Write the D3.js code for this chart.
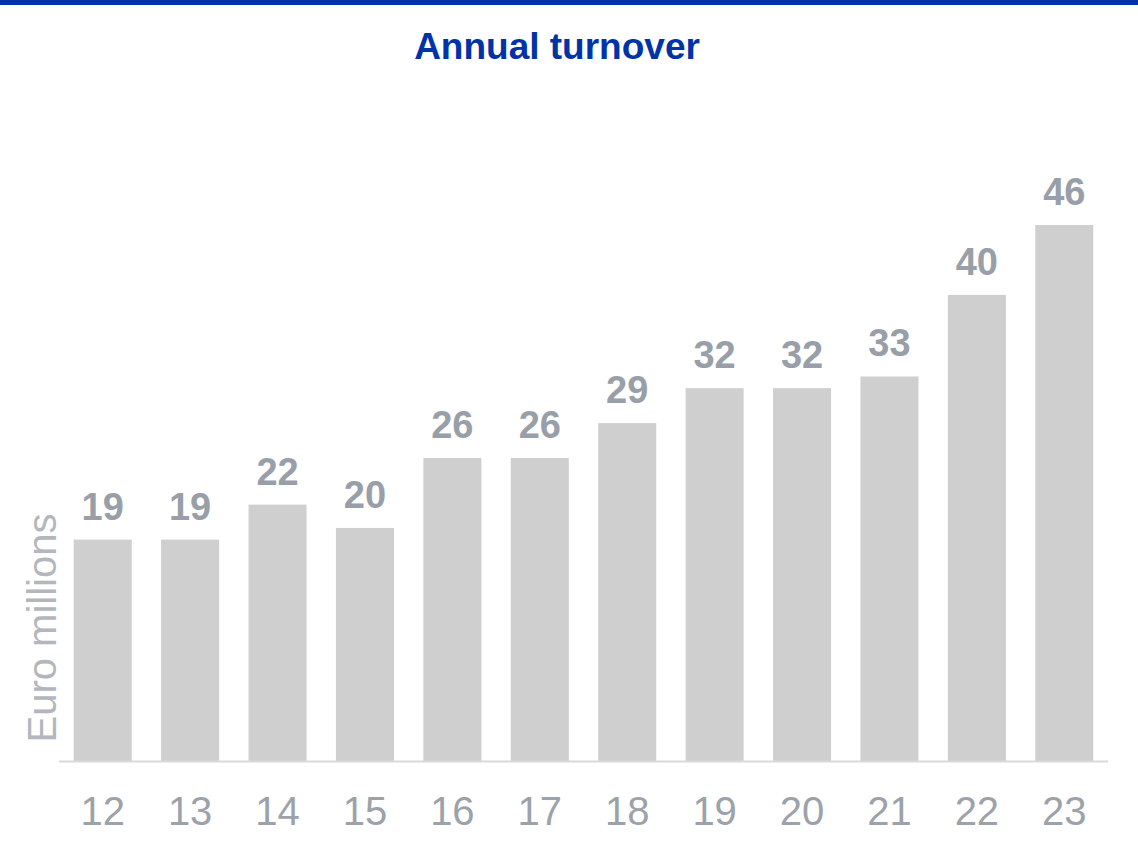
<!DOCTYPE html>
<html>
<head>
<meta charset="utf-8">
<script src="https://cdn.jsdelivr.net/npm/d3@7"></script>
<style>
  html, body { margin: 0; padding: 0; background: #fff; }
  svg { display: block; font-family: Arial, "Liberation Sans", sans-serif; }
</style>
</head>
<body>
<div id="chart"></div>
<script>
// Annual turnover, euro millions
const years = ['12', '13', '14', '15', '16', '17', '18', '19', '20', '21', '22', '23'];
const turnover = [19, 19, 22, 20, 26, 26, 29, 32, 32, 33, 40, 46];

const width = 1138;
const height = 853;
const colors = {
    brand: '#0033a8',
    bar: '#d0cfd0',
    value: '#989fa8',
    tick: '#9ca2aa',
    axisLabel: '#b3b7bd',
    axis: '#d9d9d9'
};

const svg = d3.select('#chart')
    .append('svg')
    .attr('width', width)
    .attr('height', height);

// top brand strip
svg.append('rect')
    .attr('x', 0)
    .attr('y', 0)
    .attr('width', width)
    .attr('height', 5)
    .style('fill', colors.brand);

svg.append('text')
    .attr('x', 557)
    .attr('y', 59)
    .attr('text-anchor', 'middle')
    .style('font-size', '37px')
    .style('font-weight', 'bold')
    .style('fill', colors.brand)
    .text('Annual turnover');

const x = d3.scaleBand()
    .domain(years)
    .range([59, 1108])
    .paddingInner(0.336)
    .paddingOuter(0.168);

const y = d3.scaleLinear()
    .domain([0, 46])
    .range([761, 225]);

// bars
svg.append('g')
    .selectAll('rect')
    .data(turnover)
    .join('rect')
    .attr('x', (d, i) => x(years[i]))
    .attr('y', d => y(d))
    .attr('width', x.bandwidth())
    .attr('height', d => y(0) - y(d))
    .style('fill', colors.bar);

// value labels
svg.append('g')
    .selectAll('text')
    .data(turnover)
    .join('text')
    .attr('x', (d, i) => x(years[i]) + x.bandwidth() / 2)
    .attr('y', d => y(d) - 20)
    .attr('text-anchor', 'middle')
    .style('font-size', '38px')
    .style('font-weight', 'bold')
    .style('fill', colors.value)
    .text(d => d);

// x axis
const xAxis = svg.append('g')
    .attr('transform', `translate(0,${y(0)})`)
    .call(d3.axisBottom(x).tickSize(0).tickPadding(0));

xAxis.select('.domain')
    .attr('d', `M59,0.5H1108`)
    .style('stroke', colors.axis)
    .style('stroke-width', 2);

xAxis.selectAll('.tick text')
    .attr('y', 64)
    .attr('dy', null)
    .style('font-size', '40px')
    .style('font-family', 'Arial, "Liberation Sans", sans-serif')
    .style('fill', colors.tick);

// y axis label
svg.append('text')
    .attr('transform', 'translate(56,628) rotate(-90)')
    .attr('text-anchor', 'middle')
    .style('font-size', '40px')
    .style('fill', colors.axisLabel)
    .text('Euro millions');
</script>
</body>
</html>
